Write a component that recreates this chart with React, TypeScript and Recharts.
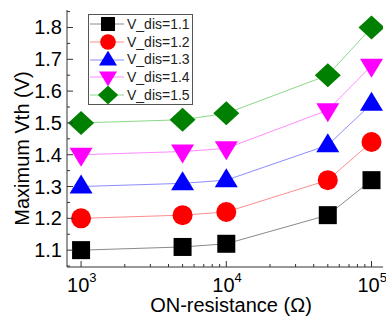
import { LineChart, Line, XAxis, YAxis, Legend, Label } from 'recharts'

const resistance = [1000, 5000, 10000, 50000, 100000]
const vdis11 = [1.1, 1.11, 1.12, 1.21, 1.32]
const vdis12 = [1.2, 1.21, 1.22, 1.32, 1.44]
const vdis13 = [1.3, 1.31, 1.32, 1.43, 1.56]
const vdis14 = [1.4, 1.41, 1.42, 1.54, 1.68]
const vdis15 = [1.5, 1.51, 1.53, 1.65, 1.8]
const seriesNames = ['V_dis=1.1', 'V_dis=1.2', 'V_dis=1.3', 'V_dis=1.4', 'V_dis=1.5']

const xMajorTicks = [1000, 10000, 100000]
const xMinorTicks = [
  2000, 3000, 4000, 5000, 6000, 7000, 8000, 9000,
  20000, 30000, 40000, 50000, 60000, 70000, 80000, 90000
]
const yMajorTicks = [1.1, 1.2, 1.3, 1.4, 1.5, 1.6, 1.7, 1.8]
const yMinorTicks = [1.05, 1.15, 1.25, 1.35, 1.45, 1.55, 1.65, 1.75, 1.85]

const data = resistance.map((r, i) => ({
  r,
  v11: vdis11[i],
  v12: vdis12[i],
  v13: vdis13[i],
  v14: vdis14[i],
  v15: vdis15[i]
}))

type Shape = 'square' | 'circle' | 'up' | 'down' | 'diamond'

const series: { key: string; name: string; shape: Shape; fill: string; line: string }[] = [
  { key: 'v11', name: seriesNames[0], shape: 'square', fill: '#000000', line: '#8a8a8a' },
  { key: 'v12', name: seriesNames[1], shape: 'circle', fill: '#ff0000', line: '#ff8c8c' },
  { key: 'v13', name: seriesNames[2], shape: 'up', fill: '#0000ff', line: '#8c8cff' },
  { key: 'v14', name: seriesNames[3], shape: 'down', fill: '#ff00ff', line: '#ff8cff' },
  { key: 'v15', name: seriesNames[4], shape: 'diamond', fill: '#008000', line: '#8cd88c' }
]

const FONT = '"Liberation Sans", Arial, sans-serif'
const AXIS = '#333'
const xAll = [...xMajorTicks, ...xMinorTicks].sort((a, b) => a - b)
const yAll = [...yMajorTicks, ...yMinorTicks].sort((a, b) => a - b)

function Marker({ cx, cy, shape, fill, s = 1 }: { cx: number; cy: number; shape: Shape; fill: string; s?: number }) {
  if (cx == null || cy == null) return null
  switch (shape) {
    case 'square':
      return <rect x={cx - 9 * s} y={cy - 9 * s} width={18 * s} height={18 * s} fill={fill} />
    case 'circle':
      return <circle cx={cx} cy={cy} r={10 * s} fill={fill} />
    case 'up':
      return (
        <polygon
          points={`${cx},${cy - 12 * s} ${cx + 11.5 * s},${cy + 7 * s} ${cx - 11.5 * s},${cy + 7 * s}`}
          fill={fill}
        />
      )
    case 'down':
      return (
        <polygon
          points={`${cx},${cy + 12 * s} ${cx + 11.5 * s},${cy - 7 * s} ${cx - 11.5 * s},${cy - 7 * s}`}
          fill={fill}
        />
      )
    default:
      return (
        <polygon
          points={`${cx},${cy - 12 * s} ${cx + 13 * s},${cy} ${cx},${cy + 12 * s} ${cx - 13 * s},${cy}`}
          fill={fill}
        />
      )
  }
}

function BottomTick({ x, y, payload }: any) {
  const v = payload.value
  const major = xMajorTicks.includes(v)
  return (
    <g>
      <line x1={x} x2={x} y1={y} y2={y - (major ? 6 : 3)} stroke={AXIS} />
      {major && (
        <text x={x - 14} y={y + 25} fontSize={20} fill="#000" fontFamily={FONT}>
          10
          <tspan dy={-10} fontSize={13}>{Math.round(Math.log10(v))}</tspan>
        </text>
      )}
    </g>
  )
}

function TopTick({ x, y, payload }: any) {
  const major = xMajorTicks.includes(payload.value)
  return <line x1={x} x2={x} y1={y} y2={y + (major ? 6 : 3)} stroke={AXIS} />
}

function LeftTick({ x, y, payload }: any) {
  const v = payload.value
  const major = yMajorTicks.includes(v)
  return (
    <g>
      <line x1={x} x2={x + (major ? 6 : 3)} y1={y} y2={y} stroke={AXIS} />
      {major && (
        <text x={x - 5} y={y + 7} textAnchor="end" fontSize={20} fill="#000" fontFamily={FONT}>
          {v.toFixed(1)}
        </text>
      )}
    </g>
  )
}

function RightTick({ x, y, payload }: any) {
  const major = yMajorTicks.includes(payload.value)
  return <line x1={x} x2={x - (major ? 6 : 3)} y1={y} y2={y} stroke={AXIS} />
}

function renderLegend() {
  return (
    <div
      style={{
        border: '1px solid #555',
        background: '#fff',
        fontFamily: FONT,
        fontSize: 14,
        width: 105,
        boxSizing: 'border-box'
      }}
    >
      {series.map((s) => (
        <div key={s.key} style={{ display: 'flex', alignItems: 'center', height: 17.8 }}>
          <svg width={38} height={18} style={{ display: 'block' }}>
            <line x1={1} x2={35} y1={9} y2={9} stroke={s.line} />
            <Marker cx={19} cy={9} shape={s.shape} fill={s.fill} s={0.78} />
          </svg>
          <span style={{ color: '#222', lineHeight: '14px' }}>{s.name}</span>
        </div>
      ))}
    </div>
  )
}

export default function App() {
  return (
    <div style={{ position: 'absolute', left: 0, top: 0, background: '#fff' }}>
      <LineChart width={386} height={322} data={data} margin={{ top: 10, right: 3, bottom: 0, left: 0 }}>
        <XAxis
          dataKey="r"
          type="number"
          scale="log"
          domain={[800, 120000]}
          allowDataOverflow
          ticks={xAll}
          interval={0}
          tick={<BottomTick />}
          tickLine={false}
          tickSize={0}
          tickMargin={0}
          height={55}
          axisLine={{ stroke: AXIS }}
        >
          <Label
            content={({ viewBox }: any) => (
              <text
                x={viewBox.x + viewBox.width / 2 + 6}
                y={viewBox.y + viewBox.height - 10}
                textAnchor="middle"
                fontSize={20}
                fill="#000"
                fontFamily={FONT}
              >
                ON-resistance (Ω)
              </text>
            )}
          />
        </XAxis>
        <XAxis
          xAxisId="top"
          orientation="top"
          dataKey="r"
          type="number"
          scale="log"
          domain={[800, 120000]}
          allowDataOverflow
          ticks={xAll}
          interval={0}
          tick={<TopTick />}
          tickLine={false}
          tickSize={0}
          tickMargin={0}
          height={0}
          axisLine={{ stroke: AXIS }}
        />
        <YAxis
          type="number"
          domain={[1.047, 1.855]}
          allowDataOverflow
          ticks={yAll}
          interval={0}
          tick={<LeftTick />}
          tickLine={false}
          tickSize={0}
          tickMargin={0}
          width={67}
          axisLine={{ stroke: AXIS }}
        >
          <Label
            content={({ viewBox }: any) => {
              const cx = viewBox.x + 22
              const cy = viewBox.y + viewBox.height / 2 + 10
              return (
                <text
                  x={cx}
                  y={cy}
                  transform={`rotate(-90, ${cx}, ${cy})`}
                  textAnchor="middle"
                  dominantBaseline="central"
                  fontSize={20}
                  fill="#000"
                  fontFamily={FONT}
                >
                  Maximum Vth (V)
                </text>
              )
            }}
          />
        </YAxis>
        <YAxis
          yAxisId="right"
          orientation="right"
          type="number"
          domain={[1.047, 1.855]}
          allowDataOverflow
          ticks={yAll}
          interval={0}
          tick={<RightTick />}
          tickLine={false}
          tickSize={0}
          tickMargin={0}
          width={0}
          axisLine={{ stroke: AXIS }}
        />
        <Legend
          layout="vertical"
          align="center"
          verticalAlign="middle"
          wrapperStyle={{ left: 88, top: 14, width: 107 }}
          content={renderLegend}
        />
        {series.map((s) => (
          <Line
            key={s.key}
            dataKey={s.key}
            name={s.name}
            stroke={s.line}
            strokeWidth={1}
            isAnimationActive={false}
            activeDot={false}
            dot={(p: any) => <Marker key={`${s.key}-${p.index}`} cx={p.cx} cy={p.cy} shape={s.shape} fill={s.fill} />}
          />
        ))}
      </LineChart>
    </div>
  )
}
